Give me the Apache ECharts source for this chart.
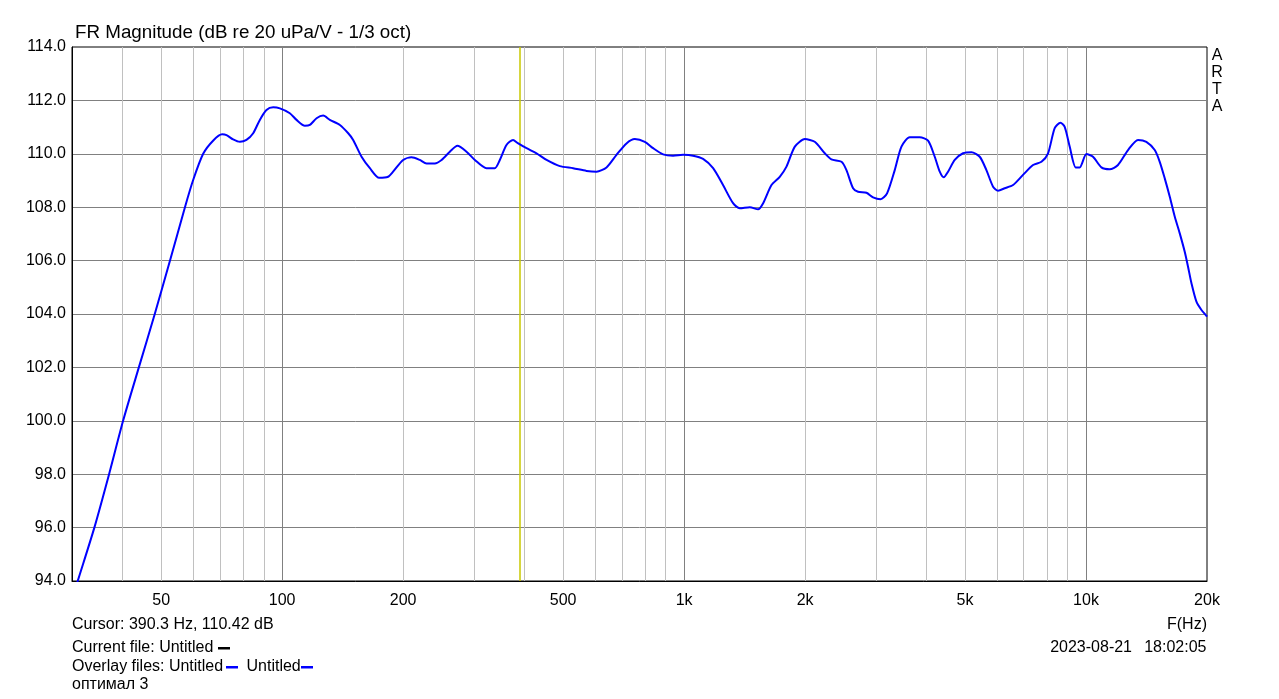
<!DOCTYPE html>
<html>
<head>
<meta charset="utf-8">
<script src="https://cdn.jsdelivr.net/npm/echarts@6/dist/echarts.min.js"></script>
<style>
html,body{margin:0;padding:0;background:#fff;}
#chart{width:1279px;height:699px;}
</style>
</head>
<body>
<div id="chart"></div>
<script>
// ---- data ----
const freq = [30, 31, 34.1, 37.1, 40.2, 44, 48.2, 52.6, 57.3, 60, 63.6, 67.4, 70.9, 72.7, 75.5, 78.5, 81.5, 84.7, 88, 91.4, 95, 98.7, 104.5, 108.6, 113.9, 117.2, 121.8, 126.5, 131.4, 139.2, 146, 150.2, 157.6, 165.3, 174.3, 183.5, 188.8, 200, 209.9, 220, 228.7, 239.8, 249.2, 261.4, 273, 287.5, 301.6, 322.4, 338.1, 348, 361.5, 375.4, 385.7, 405.5, 429.4, 454.8, 490.7, 529.6, 571.7, 605.4, 641.2, 678.9, 719, 754.1, 798.5, 837.4, 886.8, 939, 994.3, 1053, 1115, 1181, 1250, 1324, 1376, 1457, 1528, 1573, 1650, 1730, 1798, 1886, 1997, 2114, 2239, 2326, 2464, 2535, 2633, 2709, 2843, 2952, 3081, 3199, 3343, 3474, 3643, 3858, 4046, 4204, 4326, 4426, 4537, 4714, 4943, 5187, 5440, 5652, 5871, 6041, 6277, 6584, 6970, 7383, 7747, 8046, 8358, 8637, 8851, 9107, 9428, 9646, 10023, 10409, 10922, 11455, 12011, 12722, 13471, 14130, 14826, 15256, 15700, 16159, 16630, 17110, 17605, 17941, 18296, 18826, 19375, 19935, 20000];
const mag = [93.3, 94.0, 96.0, 98.0, 100.0, 102.0, 104.0, 106.0, 108.0, 109.0, 110.0, 110.5, 110.73, 110.7, 110.54, 110.45, 110.52, 110.77, 111.27, 111.64, 111.74, 111.7, 111.52, 111.27, 111.05, 111.08, 111.33, 111.43, 111.27, 111.08, 110.77, 110.52, 109.89, 109.46, 109.1, 109.14, 109.33, 109.77, 109.87, 109.77, 109.64, 109.64, 109.77, 110.08, 110.3, 110.08, 109.77, 109.46, 109.46, 109.77, 110.33, 110.52, 110.4, 110.21, 110.02, 109.77, 109.54, 109.46, 109.36, 109.33, 109.49, 109.96, 110.39, 110.55, 110.45, 110.21, 109.98, 109.93, 109.96, 109.93, 109.81, 109.46, 108.83, 108.15, 107.96, 108.0, 107.92, 108.15, 108.83, 109.14, 109.52, 110.27, 110.55, 110.45, 110.02, 109.79, 109.7, 109.39, 108.71, 108.58, 108.54, 108.37, 108.3, 108.52, 109.39, 110.27, 110.62, 110.62, 110.49, 109.89, 109.33, 109.12, 109.33, 109.77, 110.02, 110.06, 109.89, 109.39, 108.77, 108.62, 108.71, 108.83, 109.21, 109.58, 109.7, 110.02, 110.96, 111.16, 111.01, 110.27, 109.49, 109.49, 109.99, 109.89, 109.49, 109.42, 109.58, 110.14, 110.52, 110.45, 110.14, 109.7, 109.08, 108.39, 107.64, 107.02, 106.33, 105.77, 105.15, 104.46, 104.15, 103.93, 103.9];
const xLabelValues = [50, 100, 200, 500, 1000, 2000, 5000, 10000, 20000];
const majorGridValues = [100, 1000, 10000];
const minorGridValues = [40, 50, 60, 70, 80, 90, 200, 300, 400, 500, 600, 700, 800, 900, 2000, 3000, 4000, 5000, 6000, 7000, 8000, 9000];
const cursorFreq = 390.3;
const titleText = 'FR Magnitude (dB re 20 uPa/V - 1/3 oct)';
const cursorText = 'Cursor: 390.3 Hz, 110.42 dB';
const currentFileText = 'Current file: Untitled';
const overlayText1 = 'Overlay files: Untitled';
const overlayText2 = 'Untitled';
const noteText = 'оптимал 3';
const axisUnitText = 'F(Hz)';
const dateText = '2023-08-21';
const timeText = '18:02:05';
const brandLetters = ['A', 'R', 'T', 'A'];

const FONT = 'Arial, "Liberation Sans", sans-serif';

function fmtFreq(v) {
  const r = Math.round(v);
  if (r >= 1000) return (r / 1000) + 'k';
  return String(r);
}

const chart = echarts.init(document.getElementById('chart'), null, {renderer: 'canvas'});

const textStyle = (extra) => Object.assign({fill: '#000', font: '16px ' + FONT}, extra);

const graphics = [
  {type: 'text', x: 75, y: 33, style: textStyle({text: titleText, font: '18.8px ' + FONT, verticalAlign: 'middle'})},
  {type: 'text', x: 72, y: 624.5, style: textStyle({text: cursorText, verticalAlign: 'middle'})},
  {type: 'text', x: 72, y: 648, style: textStyle({text: currentFileText, verticalAlign: 'middle'})},
  {type: 'rect', shape: {x: 218, y: 647, width: 12, height: 2.5}, style: {fill: '#000'}},
  {type: 'text', x: 72, y: 666.5, style: textStyle({text: overlayText1, verticalAlign: 'middle'})},
  {type: 'rect', shape: {x: 226, y: 666, width: 12, height: 2.5}, style: {fill: '#0000ff'}},
  {type: 'text', x: 246.5, y: 666.5, style: textStyle({text: overlayText2, verticalAlign: 'middle'})},
  {type: 'rect', shape: {x: 301, y: 666, width: 12, height: 2.5}, style: {fill: '#0000ff'}},
  {type: 'text', x: 72, y: 684.7, style: textStyle({text: noteText, verticalAlign: 'middle'})},
  {type: 'text', x: 1207, y: 624.5, style: textStyle({text: axisUnitText, verticalAlign: 'middle', align: 'right'})},
  {type: 'text', x: 1132, y: 647.5, style: textStyle({text: dateText, verticalAlign: 'middle', align: 'right'})},
  {type: 'text', x: 1206.5, y: 647.5, style: textStyle({text: timeText, verticalAlign: 'middle', align: 'right'})}
];
brandLetters.forEach((ch, i) => {
  graphics.push({type: 'text', x: 1217, y: 56 + i * 16.8, style: textStyle({text: ch, verticalAlign: 'middle', align: 'center'})});
});

const option = {
  animation: false,
  backgroundColor: '#fff',
  textStyle: {fontFamily: FONT},
  grid: {left: 72, top: 47, right: 72, bottom: 118, show: true, borderColor: '#000', borderWidth: 1, backgroundColor: 'transparent'},
  xAxis: [
    {
      type: 'log', logBase: 10, min: 30, max: 20000, gridIndex: 0,
      axisLine: {show: true, onZero: false, lineStyle: {color: '#000', width: 1}},
      axisTick: {show: false, customValues: majorGridValues},
      axisLabel: {show: true, customValues: xLabelValues, formatter: fmtFreq, color: '#000', fontSize: 16, fontFamily: FONT, margin: 12},
      splitLine: {show: true, lineStyle: {color: '#808080', width: 1}},
      minorTick: {show: false}, minorSplitLine: {show: false}
    },
    {
      type: 'log', logBase: 10, min: 30, max: 20000, gridIndex: 0, position: 'bottom',
      axisLine: {show: false},
      axisTick: {show: false, customValues: minorGridValues},
      axisLabel: {show: false},
      splitLine: {show: true, lineStyle: {color: '#c0c0c0', width: 1}}
    }
  ],
  yAxis: {
    type: 'value', min: 94, max: 114, interval: 2,
    axisLine: {show: true, lineStyle: {color: '#000', width: 1}},
    axisTick: {show: false},
    axisLabel: {color: '#000', fontSize: 16, fontFamily: FONT, margin: 6, formatter: (v) => v.toFixed(1)},
    splitLine: {show: true, showMinLine: false, showMaxLine: false, lineStyle: {color: '#808080', width: 1}}
  },
  series: [
    {
      type: 'line', xAxisIndex: 0, yAxisIndex: 0,
      data: freq.map((f, i) => [f, mag[i]]),
      showSymbol: false, symbol: 'none', smooth: 0.25, clip: true,
      lineStyle: {color: '#0000ff', width: 2},
      z: 5,
      markLine: {
        silent: true, symbol: 'none', animation: false,
        label: {show: false},
        lineStyle: {color: '#c8c800', width: 1.5, type: 'solid'},
        data: [{xAxis: cursorFreq}]
      }
    }
  ],
  graphic: graphics
};
chart.setOption(option);
</script>
</body>
</html>
